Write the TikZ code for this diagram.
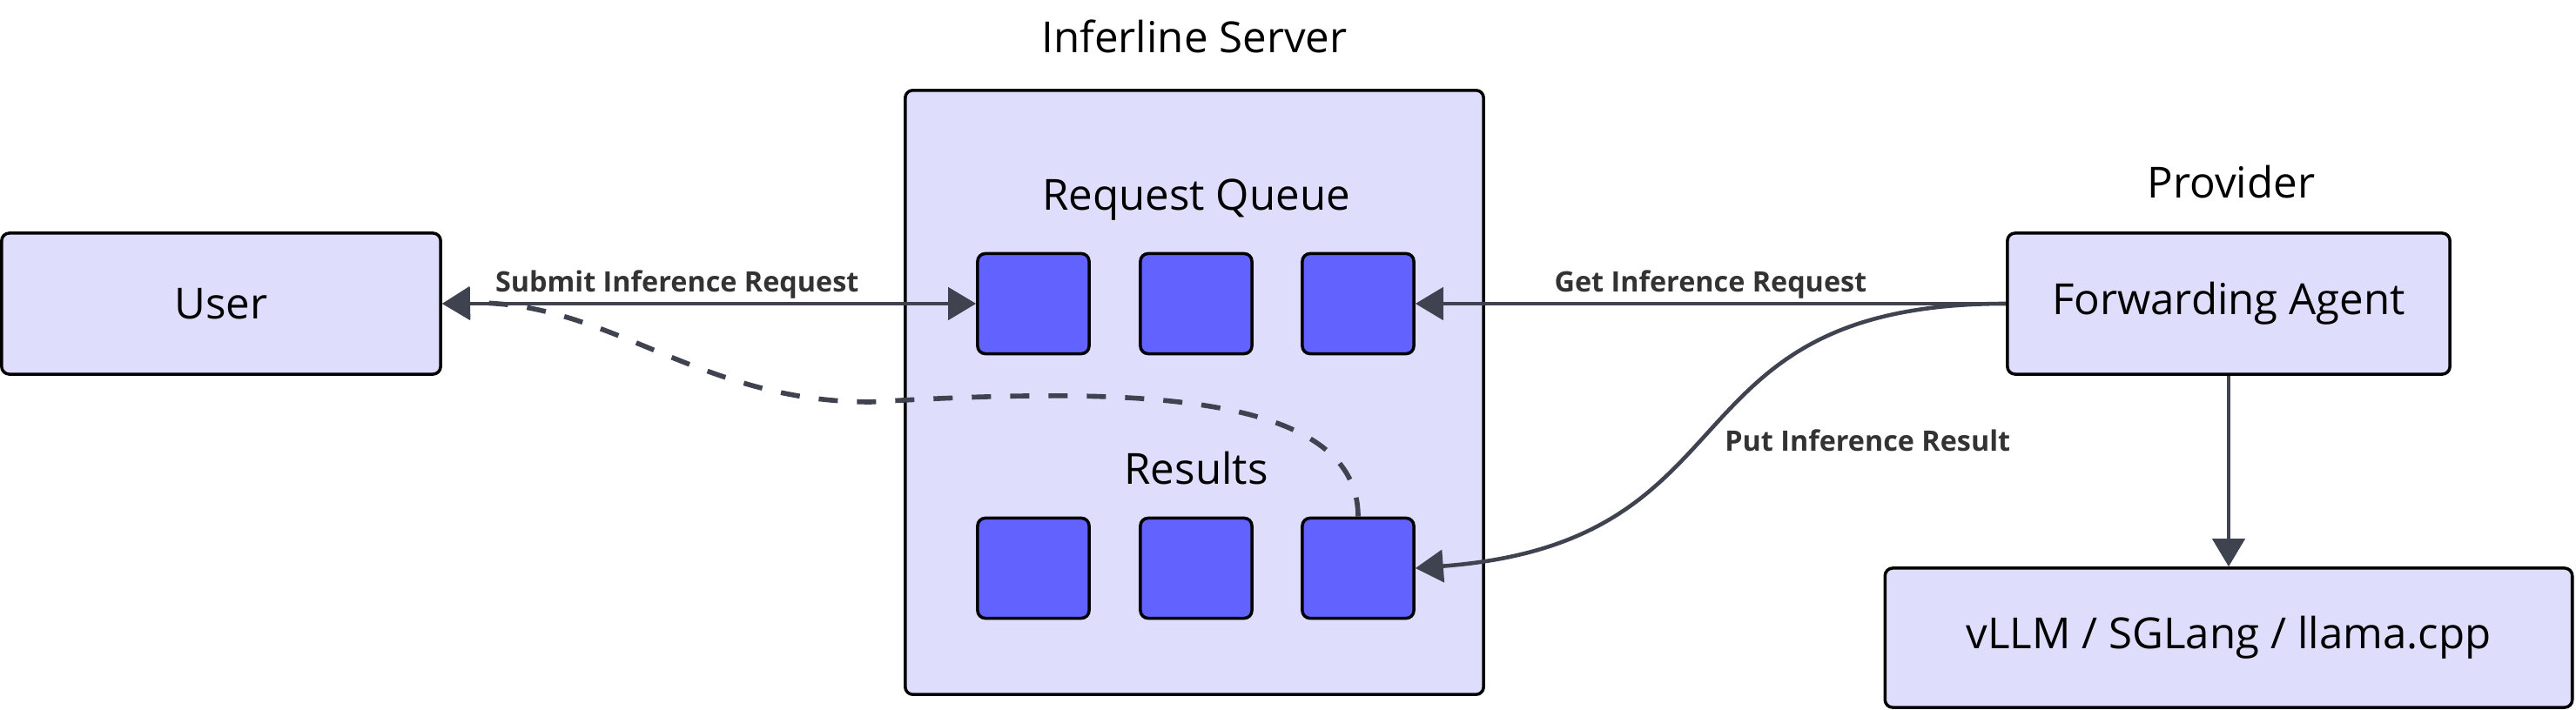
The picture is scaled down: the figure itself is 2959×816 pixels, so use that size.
\documentclass[tikz,border=0pt]{standalone}
\usepackage{fontspec}
\setmainfont{Open Sans}
\usepackage{tikz}
\usetikzlibrary{arrows.meta, positioning, calc}

\definecolor{boxfill}{RGB}{222,222,252}
\definecolor{slotfill}{RGB}{98,98,255}
\definecolor{edgegray}{RGB}{63,67,80}

\begin{document}
\begin{tikzpicture}[
    x=0.01cm, y=-0.01cm,
    box/.style={draw=black, fill=boxfill, rounded corners=2.5pt, line width=1pt, font=\fontsize{14}{17}\selectfont},
    slot/.style={draw=black, fill=slotfill, rounded corners=2.5pt, line width=1pt, minimum width=1.28cm, minimum height=1.15cm},
    title/.style={font=\fontsize{14}{17}\selectfont},
    arrow/.style={-{Triangle[length=0.32cm, width=0.37cm]}, line width=1.3pt, edgegray},
    arrow_dash/.style={arrow, line width=1.6pt, dash pattern=on 0.22cm off 0.22cm},
    lbl/.style={font=\fontsize{9.2}{11}\selectfont\bfseries, text=black!80, inner sep=2pt}
]
\useasboundingbox (0,0) rectangle (2959,816);

\node[box, minimum width=5.04cm, minimum height=1.62cm] (user) at (254,349) {User};
\node[box, minimum width=6.64cm, minimum height=6.94cm] (server) at (1372,451) {};
\node[title] (srvtitle) at (1372,42) {Inferline Server};
\node[title] (queue) at (1374,230) {Request Queue};
\node[title] (results) at (1374,538) {Results};

\node[slot] (q1) at (1187,349) {};
\node[slot] (q2) at (1374,349) {};
\node[slot] (q3) at (1560,349) {};
\node[slot] (r1) at (1187,653) {};
\node[slot] (r2) at (1374,653) {};
\node[slot] (r3) at (1560,653) {};

\node[title] (provider) at (2563,209) {Provider};
\node[box, minimum width=5.08cm, minimum height=1.62cm] (fa) at (2560,349) {Forwarding Agent};
\node[box, minimum width=7.89cm, minimum height=1.60cm] (llm) at (2560,733) {vLLM / SGLang / llama.cpp};

\coordinate (dip) at (1000,462);

% requests
\draw[arrow, {Triangle[length=0.32cm, width=0.37cm]}-{Triangle[length=0.32cm, width=0.37cm]}] (user) -- node[lbl, pos=0.44, above=-1pt] {Submit Inference Request} (q1);
\draw[arrow] (fa.west) -- node[lbl, midway, above=-1pt] {Get Inference Request} (q3);

% results
\draw[arrow] (fa.west) .. controls +(-400,0) and +(400,-30) .. node[lbl, midway, right=2pt, yshift=-0.17cm] {Put Inference Result} (r3.east);
\draw[arrow_dash] (r3.north) .. controls +(0,-155) and +(250,-14) .. (dip) .. controls +(-200,0) and +(190,-5) .. (user.east);

% backend
\draw[arrow] (fa) -- (llm);

\end{tikzpicture}
\end{document}
